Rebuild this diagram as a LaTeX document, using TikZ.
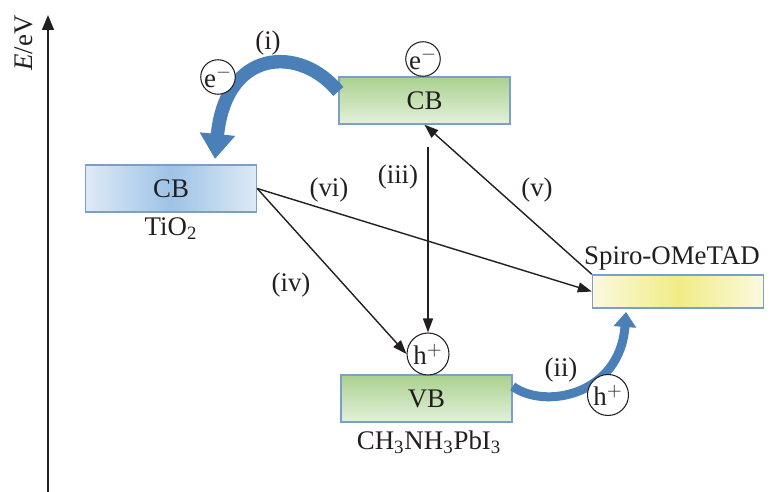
\documentclass[tikz,border=0pt]{standalone}
\usepackage{fontspec}
\setmainfont{Liberation Serif}
\usetikzlibrary{arrows.meta}
\definecolor{ink}{HTML}{231F20}
\definecolor{edgeblue}{HTML}{7B9FC7}
\definecolor{tiodark}{HTML}{9DC3E6}
\definecolor{tiolight}{HTML}{DEEAF6}
\definecolor{greentop}{HTML}{A9D18E}
\definecolor{greenbot}{HTML}{E4F1DC}
\definecolor{spiromid}{HTML}{F1EC85}
\definecolor{spiroedge}{HTML}{FBF9E0}
\definecolor{flowblue}{HTML}{4A7FB8}
\begin{document}
\begin{tikzpicture}[x=0.02cm,y=-0.02cm,
  level/.style={draw=edgeblue,line width=0.8pt,minimum width=3.42cm,inner sep=0pt},
  charge/.style={draw=ink,circle,inner sep=0pt,line width=0.6pt,fill=white},
  trans/.style={draw=ink,line width=0.8pt,-{Triangle[length=0.28cm,width=0.2cm]}},
  flow/.style={draw=flowblue,line width=0.27cm,-{Triangle[length=0.5cm,width=0.68cm]}}]
\fontsize{15.3}{18}\selectfont
\color{ink}
\useasboundingbox (0,0) rectangle (770,492);
\coordinate (ebot) at (48,492);
\coordinate (etop) at (48,15);
\draw[draw=ink,line width=0.8pt,-{Triangle[length=0.3cm,width=0.24cm]}] (ebot) -- (etop);
\node[rotate=90] (elab) at (24,43) {\textit{E}/eV};
\node[level,minimum height=0.94cm,left color=tiolight,right color=tiolight,middle color=tiodark] (tio) at (171,188.5) {CB};
\node (tiolab) at (171,229) {TiO\textsubscript{2}};
\node[level,minimum height=0.94cm,top color=greentop,bottom color=greenbot] (pcb) at (424.5,100.5) {CB};
\node[level,minimum height=0.94cm,top color=greentop,bottom color=greenbot] (pvb) at (426.5,398.5) {VB};
\node (pvblab) at (429,442) {CH\textsubscript{3}NH\textsubscript{3}PbI\textsubscript{3}};
\node[level,minimum height=0.66cm,left color=spiroedge,right color=spiroedge,middle color=spiromid] (spiro) at (678,291.5) {};
\node (spirolab) at (672,258) {Spiro-OMeTAD};
\coordinate (itip) at (215,159);
\coordinate (iitip) at (626,312);
\coordinate (iiistart) at (428,147);
\draw[flow] (pcb.174) .. controls (300,45) and (226,48) .. (itip);
\draw[flow,line width=0.18cm,-{Triangle[length=0.3cm,width=0.44cm]}] (pvb.8) .. controls (545,410) and (620,395) .. (iitip);
\node[charge,minimum size=0.62cm] (ecb) at (423,59) {e$^{-}$};
\node[charge,minimum size=0.62cm] (etio) at (218,77) {e$^{-}$};
\node[charge,minimum size=0.84cm] (hvb) at (428,354) {h$^{+}$};
\node[charge,minimum size=0.82cm] (hspiro) at (608,395) {h$^{+}$};
\draw[trans] (iiistart) -- (hvb.north);
\draw[trans] (spiro.north west) -- (pcb.south);
\draw[trans] (tio.east) -- (spiro.west);
\draw[trans] (tio.east) -- (hvb.west);
\node (li) at (268,43) {(i)};
\node (lii) at (561,370) {(ii)};
\node (liii) at (398,177) {(iii)};
\node (liv) at (291,285) {(iv)};
\node (lv) at (537,190) {(v)};
\node (lvi) at (329,190) {(vi)};
\end{tikzpicture}
\end{document}
